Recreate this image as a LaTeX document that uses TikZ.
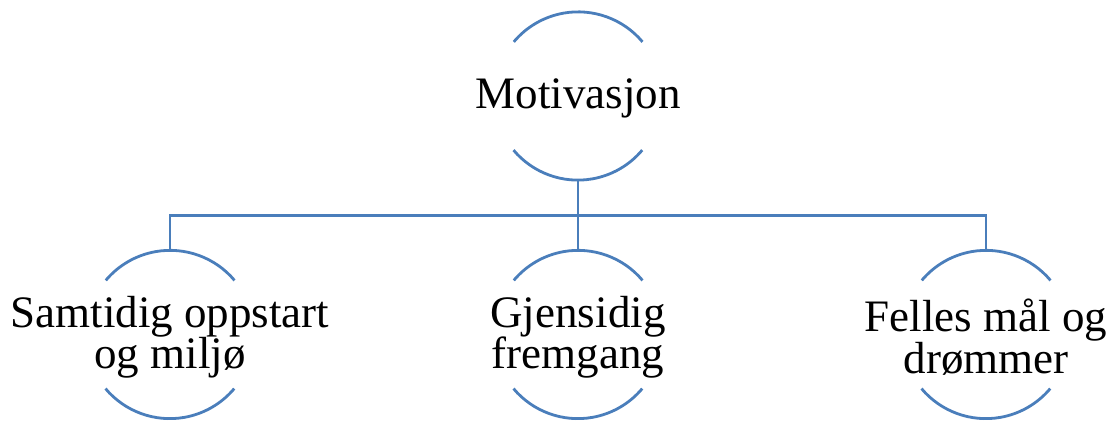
\documentclass[tikz,border=0pt]{standalone}
\usepackage{fontspec}
\setmainfont{Liberation Serif}
\definecolor{linkblue}{HTML}{4A7EBB}
\begin{document}
\begin{tikzpicture}[x=1pt,y=1pt,
  ring/.style={circle,draw=none,minimum size=168pt,inner sep=0pt},
  label text/.style={align=center,inner sep=0pt,font={\fontsize{45}{41.5}\selectfont}},
  arcline/.style={draw=linkblue,line width=2.8pt},
  link/.style={draw=linkblue,line width=2.8pt}]
\useasboundingbox (0,0) rectangle (1112,422);
% circles
\node[ring] (c0) at (578,326) {};
\node[ring] (c1) at (170,87.5) {};
\node[ring] (c2) at (578,87.5) {};
\node[ring] (c3) at (986,87.5) {};
% texts
\node[label text] (t0) at ([yshift=-2pt]c0.center) {Motivasjon};
\node[label text] (t1) at ([yshift=-2.5pt]c1.center) {Samtidig oppstart\\og miljø};
\node[label text] (t2) at ([yshift=-2.5pt]c2.center) {Gjensidig\\fremgang};
\node[label text] (t3) at ([yshift=-2.5pt]c3.center) {Felles mål og\\drømmer};
% arcs
\foreach \c in {c0,c1,c2,c3}{
  \draw[arcline] (\c.40) arc[start angle=40,end angle=140,radius=84pt];
  \draw[arcline] (\c.220) arc[start angle=220,end angle=320,radius=84pt];
}
% connectors
\draw[link] (c0.south) -- ++(0,-35) -| (c1.north);
\draw[link] (c0.south) -- ++(0,-35) -| (c3.north);
\draw[link] (c0.south) -- (c2.north);
\end{tikzpicture}
\end{document}
